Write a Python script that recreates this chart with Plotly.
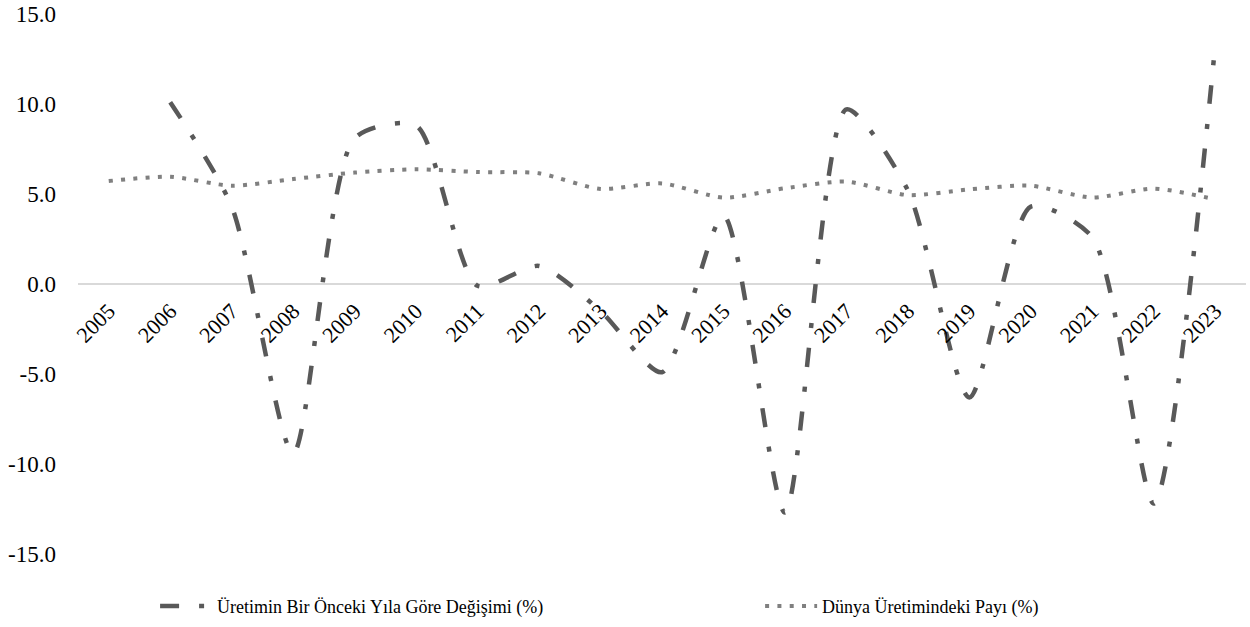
import plotly.graph_objects as go

years = [str(y) for y in range(2005, 2024)]
change_pct = [None, 10.1, 4.3, -9.4, 8.1, 8.8, -0.1, 1.0, -1.5, -4.9, 3.8,
              -12.7, 9.7, 5.2, -6.3, 4.3, 2.6, -12.2, 13.3]
world_share = [5.72, 5.96, 5.46, 5.83, 6.19, 6.37, 6.22, 6.15, 5.28, 5.59, 4.80,
               5.32, 5.69, 4.94, 5.26, 5.46, 4.80, 5.30, 4.70]

name_change = "Üretimin Bir Önceki Yıla Göre Değişimi (%)"
name_share = "Dünya Üretimindeki Payı (%)"
y_ticks = [15, 10, 5, 0, -5, -10, -15]
y_ticktext = ["15.0", "10.0", "5.0", "0.0", "-5.0", "-10.0", "-15.0"]

FONT = "Liberation Serif, Times New Roman, serif"

fig = go.Figure()
fig.add_trace(go.Scatter(
    x=years, y=change_pct, name=name_change, mode="lines", legend="legend",
    line=dict(color="#595959", width=4.5, dash="19px,20px,5px,20px",
              shape="spline", smoothing=0.7),
    connectgaps=False,
))
fig.add_trace(go.Scatter(
    x=years, y=world_share, name=name_share, mode="lines", legend="legend2",
    line=dict(color="#808080", width=4, dash="4px,8.3px",
              shape="spline", smoothing=0.7),
))

legend_common = dict(orientation="h", xanchor="left", y=-0.097, yanchor="middle",
                     font=dict(family=FONT, size=18, color="black"),
                     itemwidth=52, bgcolor="rgba(0,0,0,0)")

fig.update_layout(
    width=1250, height=627,
    margin=dict(l=78, r=4, t=14, b=73, autoexpand=False),
    paper_bgcolor="white", plot_bgcolor="white",
    font=dict(family=FONT, size=22, color="black"),
    showlegend=True,
    legend=dict(x=0.066, **legend_common),
    legend2=dict(x=0.584, **legend_common),
    xaxis=dict(type="category", categoryorder="array", categoryarray=years,
               range=[-0.5, 18.5], showgrid=False, showline=False, zeroline=False,
               ticks="", tickangle=-45, anchor="free", position=0.5, automargin=False,
               tickfont=dict(family=FONT, size=22, color="black"), ticklabelstandoff=9),
    yaxis=dict(range=[-15, 15], tickvals=y_ticks, ticktext=y_ticktext,
               showgrid=False, showline=False, zeroline=True,
               zerolinecolor="#d9d9d9", zerolinewidth=1.5, automargin=False,
               ticks="", ticklabelstandoff=21,
               tickfont=dict(family=FONT, size=23, color="black")),
)

fig.write_html("out.html", config={"displayModeBar": False},
               post_script="document.body.style.margin='0px';document.body.style.padding='0px';")
